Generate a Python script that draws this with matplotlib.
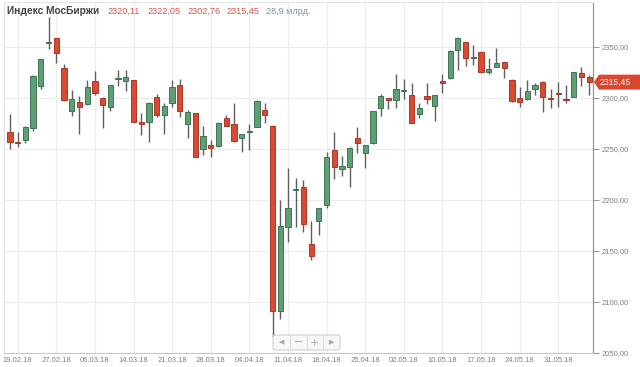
import matplotlib
matplotlib.use("Agg")
import matplotlib.pyplot as plt
from matplotlib.patches import FancyBboxPatch, Polygon
import numpy as np

plt.rcParams['font.family'] = ['Liberation Sans', 'DejaVu Sans']

# ---- data ----
opens = [2267, 2257, 2258.8, 2270.3, 2311.8, 2354, 2358.5, 2329.1, 2287.3, 2295.8,
         2293.8, 2317, 2300.3, 2290.9, 2318.5, 2317, 2317.6, 2276.8, 2276.5, 2301.3,
         2283.3, 2294.8, 2312.7, 2274.2, 2285, 2249.7, 2253.6, 2253.2, 2280.7, 2274.2,
         2260.8, 2266.3, 2271.9, 2288.2, 2272.8, 2091.2, 2173.8, 2209.5, 2212.5, 2156.9,
         2179.4, 2195.1, 2249, 2230.7, 2232.6, 2260.5, 2246.4, 2256.2, 2289.9, 2300,
         2298, 2307, 2303, 2284, 2302, 2292.2, 2316.7, 2319.3, 2347, 2354.6,
         2339, 2344.8, 2325.8, 2330.7, 2335.5, 2317.6, 2299.7, 2299, 2308.5, 2315.4,
         2300.2, 2305, 2299.2, 2300.7, 2324.2, 2320.11]
highs = [2284, 2267, 2272.5, 2322.5, 2338.5, 2379.4, 2359, 2333.3, 2307.8, 2302,
         2317.6, 2326.8, 2300.5, 2313, 2327.5, 2327.5, 2318, 2285, 2296, 2304,
         2294.8, 2317.6, 2318.2, 2288.2, 2285, 2272.5, 2258.8, 2276.5, 2283.3, 2294.8,
         2265, 2274.2, 2298, 2294.8, 2273, 2200, 2231.7, 2221.3, 2219.6, 2179.4,
         2192, 2247.4, 2267, 2243.1, 2251.5, 2271.2, 2254, 2287.5, 2303.6, 2300.3,
         2323.2, 2318.6, 2315, 2295.4, 2315, 2303.2, 2323.5, 2347, 2359.5, 2355,
         2352, 2346, 2339.5, 2348.7, 2335.5, 2318.2, 2310.5, 2317.6, 2315, 2317,
         2308.5, 2316, 2312.7, 2325.5, 2330, 2322.05]
lows = [2250, 2252, 2256.2, 2267.6, 2308.8, 2348, 2334.6, 2297, 2282.4, 2264.7,
        2293, 2303, 2270.9, 2287.3, 2311.8, 2306.9, 2276, 2263.7, 2257.2, 2281,
        2264.7, 2291.5, 2281, 2260.5, 2241.8, 2244, 2241.8, 2252, 2272.5, 2257.2,
        2246.8, 2249, 2271.2, 2275.8, 2065.4, 2083, 2158.5, 2173.8, 2168.3, 2141.2,
        2165.7, 2192.5, 2220.3, 2223.5, 2213, 2246.4, 2231, 2254.9, 2282.6, 2289.2,
        2290.5, 2299, 2275.2, 2280, 2294, 2277.7, 2304.6, 2318.2, 2327.5, 2331.7,
        2332.4, 2325, 2323.5, 2330.5, 2319.3, 2296.4, 2291.5, 2298, 2303, 2286.6,
        2290.5, 2291.5, 2294.8, 2300.5, 2311.8, 2302.76]
closes = [2256.6, 2255.4, 2271.3, 2321.9, 2338, 2355, 2344.4, 2298, 2299, 2290.9,
          2311, 2305.2, 2293.1, 2312.7, 2319, 2320.3, 2276.8, 2274.2, 2295.4, 2283.3,
          2292.2, 2310.5, 2287.5, 2286.6, 2242.5, 2263, 2251, 2275.8, 2272.8, 2258.1,
          2264.7, 2266.8, 2297, 2283.3, 2091.5, 2174.5, 2192.5, 2210.5, 2176.2, 2145.1,
          2191.9, 2242.5, 2232, 2233.3, 2251.3, 2255.6, 2254, 2287.3, 2302.3, 2298,
          2308.5, 2307.6, 2275.8, 2290.5, 2298.7, 2303, 2315, 2346.4, 2358.5, 2339.5,
          2340, 2325.2, 2328.1, 2334, 2329, 2297, 2295.8, 2307.2, 2312.7, 2300.7,
          2299.2, 2304.3, 2298.4, 2325.2, 2320.3, 2315.45]

tick_dates = ['19.02.18', '27.02.18', '06.03.18', '14.03.18', '21.03.18', '28.03.18',
              '04.04.18', '11.04.18', '18.04.18', '25.04.18', '02.05.18', '10.05.18',
              '17.05.18', '24.05.18', '31.05.18']
y_ticks = [2050, 2100, 2150, 2200, 2250, 2300, 2350]

title_name = 'Индекс МосБиржи'
title_ohlc = ['2320,11', '2322,05', '2302,76', '2315,45']
title_volume = '28,9 млрд.'
last_label = '2315,45'

# ---- styling ----
GREEN = '#5e9f74'
GREEN_EDGE = '#3f7553'
RED = '#da4a32'
RED_EDGE = '#a8382a'
WICK = '#5f5f5f'
GRID = '#ececec'

W, H = 640, 367
fig = plt.figure(figsize=(W / 100, H / 100), dpi=100)
ax = fig.add_axes([4 / W, 14 / H, (593 - 4) / W, (353 - 2) / H])

n = len(opens)
x = np.arange(n)
o = np.array(opens); c = np.array(closes)
hi = np.array(highs); lo = np.array(lows)
up = c >= o

ax.vlines(x, lo, hi, color=WICK, linewidth=1.0, zorder=2)
bottoms = np.minimum(o, c)
heights = np.maximum(np.abs(c - o), 0.8)
ax.bar(x[up], heights[up], bottom=bottoms[up], width=0.68, color=GREEN,
       edgecolor=GREEN_EDGE, linewidth=0.7, zorder=3)
ax.bar(x[~up], heights[~up], bottom=bottoms[~up], width=0.68, color=RED,
       edgecolor=RED_EDGE, linewidth=0.7, zorder=3)

ax.set_xlim(-0.77, 75.5)
ax.set_ylim(2050, 2394)

tick_pos = [1 + 5 * k for k in range(len(tick_dates))]
ax.set_xticks(tick_pos)
ax.set_xticklabels(tick_dates)
ax.set_yticks(y_ticks)
ax.set_yticklabels([f'{v:.2f}'.replace('.', ',') for v in y_ticks])
ax.yaxis.tick_right()
ax.grid(True, color=GRID, linewidth=0.8, zorder=0)
ax.set_axisbelow(True)

ax.tick_params(axis='x', length=0, pad=3, labelsize=5.5, labelcolor='#808080')
ax.tick_params(axis='y', length=4, width=0.8, color='#999999', pad=2,
               labelsize=5.5, labelcolor='#808080')
ax.spines['top'].set_color('#e6e6e6')
ax.spines['top'].set_linewidth(0.8)
ax.spines['left'].set_color('#e0e0e0')
ax.spines['left'].set_linewidth(0.8)
ax.spines['right'].set_color('#999999')
ax.spines['right'].set_linewidth(0.9)
ax.spines['bottom'].set_color('#c8c8c8')
ax.spines['bottom'].set_linewidth(0.8)

# ---- last-price tag ----
last = closes[-1]
yl = ax.transData.transform((0, last))[1]
fy = yl / H
tag = Polygon([(594 / W, fy), (599 / W, fy + 7.5 / H), (640 / W, fy + 7.5 / H),
               (640 / W, fy - 7.5 / H), (599 / W, fy - 7.5 / H)],
              closed=True, transform=fig.transFigure, facecolor='#d9472f',
              edgecolor='none', zorder=10)
fig.patches.append(tag)
fig.text(600 / W, fy, last_label, color='white', fontsize=6.2, va='center',
         ha='left', zorder=11)

# ---- title ----
ty = 1 - 11 / H
fig.text(7 / W, ty, title_name, fontsize=7.3, fontweight='bold', color='#444444',
         va='center', ha='left')
xs = [107, 147, 187, 226]
for xp, s in zip(xs, title_ohlc):
    fig.text(xp / W, ty, s, fontsize=6.6, color='#cf5a4c', va='center', ha='left')
fig.text(266 / W, ty, title_volume, fontsize=6.6, color='#7f95a8', va='center', ha='left')

# ---- navigator buttons ----
bx0, by0, bw, bh = 273, 335, 67, 15
box = FancyBboxPatch((bx0 / W, 1 - (by0 + bh) / H), bw / W, bh / H,
                     boxstyle='round,pad=0,rounding_size=0.006',
                     transform=fig.transFigure, facecolor='#f7f7f7',
                     edgecolor='#cfcfcf', linewidth=0.8, zorder=5)
fig.patches.append(box)
for k, g in enumerate(['◀', '−', '+', '▶']):
    cx = bx0 + bw / 8 * (2 * k + 1)
    fig.text(cx / W, 1 - (by0 + bh / 2) / H, g, fontsize=5 if k in (0, 3) else 8,
             color='#a8a8a8', ha='center', va='center', family=['DejaVu Sans'],
             zorder=7)
    if k > 0:
        xx = (bx0 + bw / 4 * k) / W
        fig.add_artist(plt.Line2D([xx, xx], [1 - (by0 + 1) / H, 1 - (by0 + bh - 1) / H],
                                  transform=fig.transFigure, color='#dddddd',
                                  linewidth=0.8, zorder=6))

fig.savefig('out.png', dpi=100, facecolor='white')
